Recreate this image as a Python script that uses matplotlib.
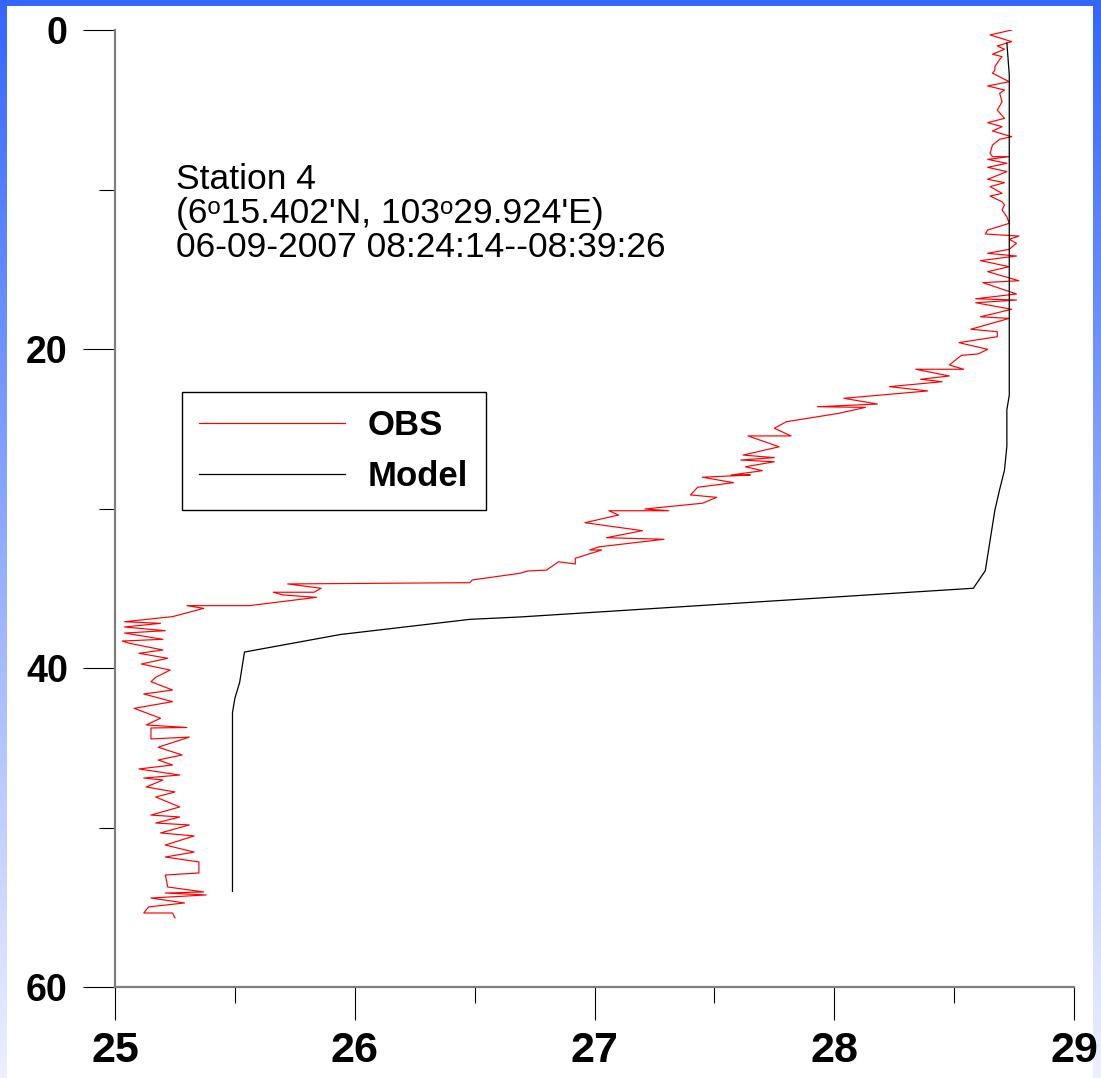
"""
Temperature profile at Station 4: observed CTD cast vs model.
"""

import numpy as np
import matplotlib
matplotlib.use('Agg')
import matplotlib.pyplot as plt
from matplotlib.ticker import MultipleLocator


# ============================================================
# DATA
# ============================================================
# observed temperature (degC) and depth (m)
obs_temp = [
    28.74, 28.65, 28.74, 28.68, 28.71, 28.66, 28.70, 28.69, 28.67, 28.67,
    28.66, 28.73, 28.64, 28.71, 28.69, 28.70, 28.68, 28.71, 28.64, 28.70,
    28.66, 28.74, 28.69, 28.66, 28.65, 28.66, 28.73, 28.64, 28.72, 28.64,
    28.72, 28.64, 28.71, 28.65, 28.70, 28.65, 28.70, 28.71, 28.70, 28.72,
    28.73, 28.64, 28.63, 28.77, 28.73, 28.76, 28.73, 28.64, 28.76, 28.61,
    28.73, 28.64, 28.77, 28.62, 28.76, 28.59, 28.76, 28.59, 28.74, 28.61,
    28.73, 28.57, 28.68, 28.68, 28.52, 28.64, 28.60, 28.53, 28.48, 28.54,
    28.34, 28.48, 28.36, 28.45, 28.23, 28.39, 28.04, 28.18, 27.93, 28.13,
    28.02, 27.80, 27.75, 27.82, 27.64, 27.77, 27.62, 27.75, 27.61, 27.75,
    27.63, 27.70, 27.57, 27.65, 27.45, 27.58, 27.43, 27.40, 27.51, 27.45,
    27.21, 27.31, 27.06, 27.10, 26.96, 27.20, 27.05, 27.29, 27.02, 26.98,
    27.03, 26.92, 26.92, 26.85, 26.80, 26.72, 26.69, 26.49, 26.48, 25.72,
    25.86, 25.83, 25.66, 25.70, 25.84, 25.56, 25.30, 25.37, 25.24, 25.04,
    25.19, 25.04, 25.21, 25.04, 25.20, 25.03, 25.06, 25.20, 25.10, 25.22,
    25.11, 25.23, 25.17, 25.15, 25.24, 25.12, 25.24, 25.08, 25.19, 25.13,
    25.30, 25.15, 25.15, 25.31, 25.18, 25.28, 25.18, 25.24, 25.10, 25.27,
    25.12, 25.20, 25.13, 25.25, 25.17, 25.27, 25.15, 25.27, 25.17, 25.31,
    25.19, 25.33, 25.21, 25.33, 25.21, 25.35, 25.35, 25.21, 25.22, 25.37,
    25.21, 25.38, 25.15, 25.29, 25.14, 25.12, 25.24, 25.25,
]
obs_depth = [
    0.00, 0.31, 0.73, 1.00, 1.21, 1.52, 1.67, 1.84, 2.30, 2.51,
    2.71, 3.24, 3.51, 3.76, 3.97, 4.50, 5.02, 5.54, 5.81, 6.06,
    6.33, 6.69, 6.85, 7.21, 7.73, 7.94, 7.94, 8.11, 8.36, 8.61,
    8.88, 9.36, 9.57, 9.82, 10.24, 10.41, 10.77, 10.97, 11.29, 11.71,
    12.12, 12.54, 12.79, 12.92, 13.12, 13.37, 13.75, 14.00, 14.17, 14.46,
    14.84, 15.15, 15.72, 15.84, 16.55, 16.85, 16.93, 17.10, 17.51, 17.98,
    18.08, 18.76, 18.92, 19.23, 19.60, 20.02, 20.31, 20.40, 21.00, 21.27,
    21.27, 21.69, 21.90, 22.05, 22.36, 22.63, 23.09, 23.45, 23.62, 23.66,
    24.03, 24.56, 24.97, 25.45, 25.45, 26.13, 26.65, 26.81, 26.96, 27.07,
    27.38, 27.63, 27.90, 27.90, 28.04, 28.38, 28.67, 29.15, 29.30, 29.67,
    30.03, 30.14, 30.14, 30.41, 30.89, 31.39, 31.83, 31.93, 32.40, 32.60,
    32.60, 33.12, 33.48, 33.34, 33.86, 33.92, 34.06, 34.48, 34.65, 34.73,
    35.00, 35.25, 35.25, 35.42, 35.57, 36.09, 36.09, 36.26, 36.78, 37.10,
    37.20, 37.43, 37.66, 37.81, 38.20, 38.31, 38.45, 38.87, 39.08, 39.39,
    39.75, 40.13, 40.58, 40.86, 41.38, 41.63, 42.11, 42.53, 43.15, 43.57,
    43.73, 43.76, 44.45, 44.33, 44.97, 45.45, 45.77, 46.08, 46.33, 46.71,
    46.90, 47.02, 47.46, 47.77, 48.09, 48.71, 49.22, 49.34, 49.72, 49.84,
    50.34, 50.53, 51.10, 51.54, 51.85, 52.16, 52.85, 52.98, 53.73, 54.04,
    54.11, 54.23, 54.42, 54.73, 54.98, 55.36, 55.36, 55.67,
]

# model temperature (degC) and depth (m)
model_temp = [28.72, 28.73, 28.73, 28.72, 28.72, 28.71, 28.69, 28.67, 28.65,
              28.63, 28.58, 26.69, 26.48, 25.94, 25.54, 25.52, 25.50, 25.49,
              25.49]
model_depth = [0.8, 2.8, 22.9, 23.8, 26.1, 27.6, 28.8, 30.1, 32.0,
               33.9, 35.0, 36.8, 36.95, 37.9, 39.0, 40.9, 41.9, 42.8,
               54.0]

x_ticks = [25, 26, 27, 28, 29]
y_ticks = [0, 20, 40, 60]
series_labels = ['OBS', 'Model']
info_lines = ['Station 4',
              "(6\u1d5215.402'N, 103\u1d5229.924'E)",
              '06-09-2007 08:24:14--08:39:26']

# ============================================================
# STYLE
# ============================================================
W, H, DPI = 1101, 1078, 100
FONT = ['Liberation Sans', 'DejaVu Sans']
SPINE_GREY = '#7f7f7f'


def add_background(fig):
    """Blue slide border fading towards the bottom."""
    img = np.ones((H, W, 3))
    top = np.array([0.20, 0.40, 1.0])
    bottom = np.array([0.93, 0.94, 1.0])
    t = np.linspace(0, 1, H)[:, None]
    side = top * (1 - t) + bottom * t
    img[:, :7, :] = side[:, None, :]
    img[:, W - 8:, :] = side[:, None, :]
    img[:6, :, :] = top
    bg = fig.add_axes([0, 0, 1, 1], zorder=-10)
    bg.imshow(img, aspect='auto', interpolation='nearest')
    bg.axis('off')


def main():
    plt.rcParams['font.family'] = FONT

    fig = plt.figure(figsize=(W / DPI, H / DPI), dpi=DPI)
    add_background(fig)

    ax = fig.add_axes([115 / W, 1 - 987 / H, 959 / W, 957 / H])
    ax.patch.set_alpha(0)

    ax.plot(obs_temp, obs_depth, color='red', lw=0.85, label=series_labels[0])
    ax.plot(model_temp, model_depth, color='black', lw=0.9,
            label=series_labels[1])

    ax.set_xlim(25, 29)
    ax.set_ylim(60, 0)
    ax.set_xticks(x_ticks)
    ax.set_yticks(y_ticks)
    ax.xaxis.set_minor_locator(MultipleLocator(0.5))
    ax.yaxis.set_minor_locator(MultipleLocator(10))

    for side in ['top', 'right']:
        ax.spines[side].set_visible(False)
    for side in ['left', 'bottom']:
        ax.spines[side].set_color(SPINE_GREY)
        ax.spines[side].set_linewidth(1.6)

    ax.tick_params(axis='y', which='major', direction='out', length=23,
                   width=0.8, pad=11)
    ax.tick_params(axis='y', which='minor', direction='out', length=11.5,
                   width=0.8)
    ax.tick_params(axis='x', which='major', direction='out', length=24,
                   width=0.8, pad=8)
    ax.tick_params(axis='x', which='minor', direction='out', length=11.5,
                   width=0.8)

    for lab in ax.get_yticklabels():
        lab.set_fontsize(27)
        lab.set_fontweight('bold')
    for lab in ax.get_xticklabels():
        lab.set_fontsize(31)
        lab.set_fontweight('bold')

    # station info
    for line, d in zip(info_lines, [9.97, 12.10, 14.23]):
        ax.text(25.255, d, line, fontsize=25.5, va='baseline', ha='left')

    leg = ax.legend(loc='upper left', bbox_to_anchor=((182 - 115) / 959,
                                                      1 - (392 - 30) / 957),
                    borderaxespad=0, fancybox=False, framealpha=1,
                    edgecolor='black', handlelength=4.2, handletextpad=0.66,
                    borderpad=0.5, labelspacing=0.5,
                    prop={'weight': 'bold', 'size': 25})
    leg.get_frame().set_linewidth(1.0)

    plt.savefig('out.png', dpi=DPI)
    plt.close()


if __name__ == '__main__':
    main()
